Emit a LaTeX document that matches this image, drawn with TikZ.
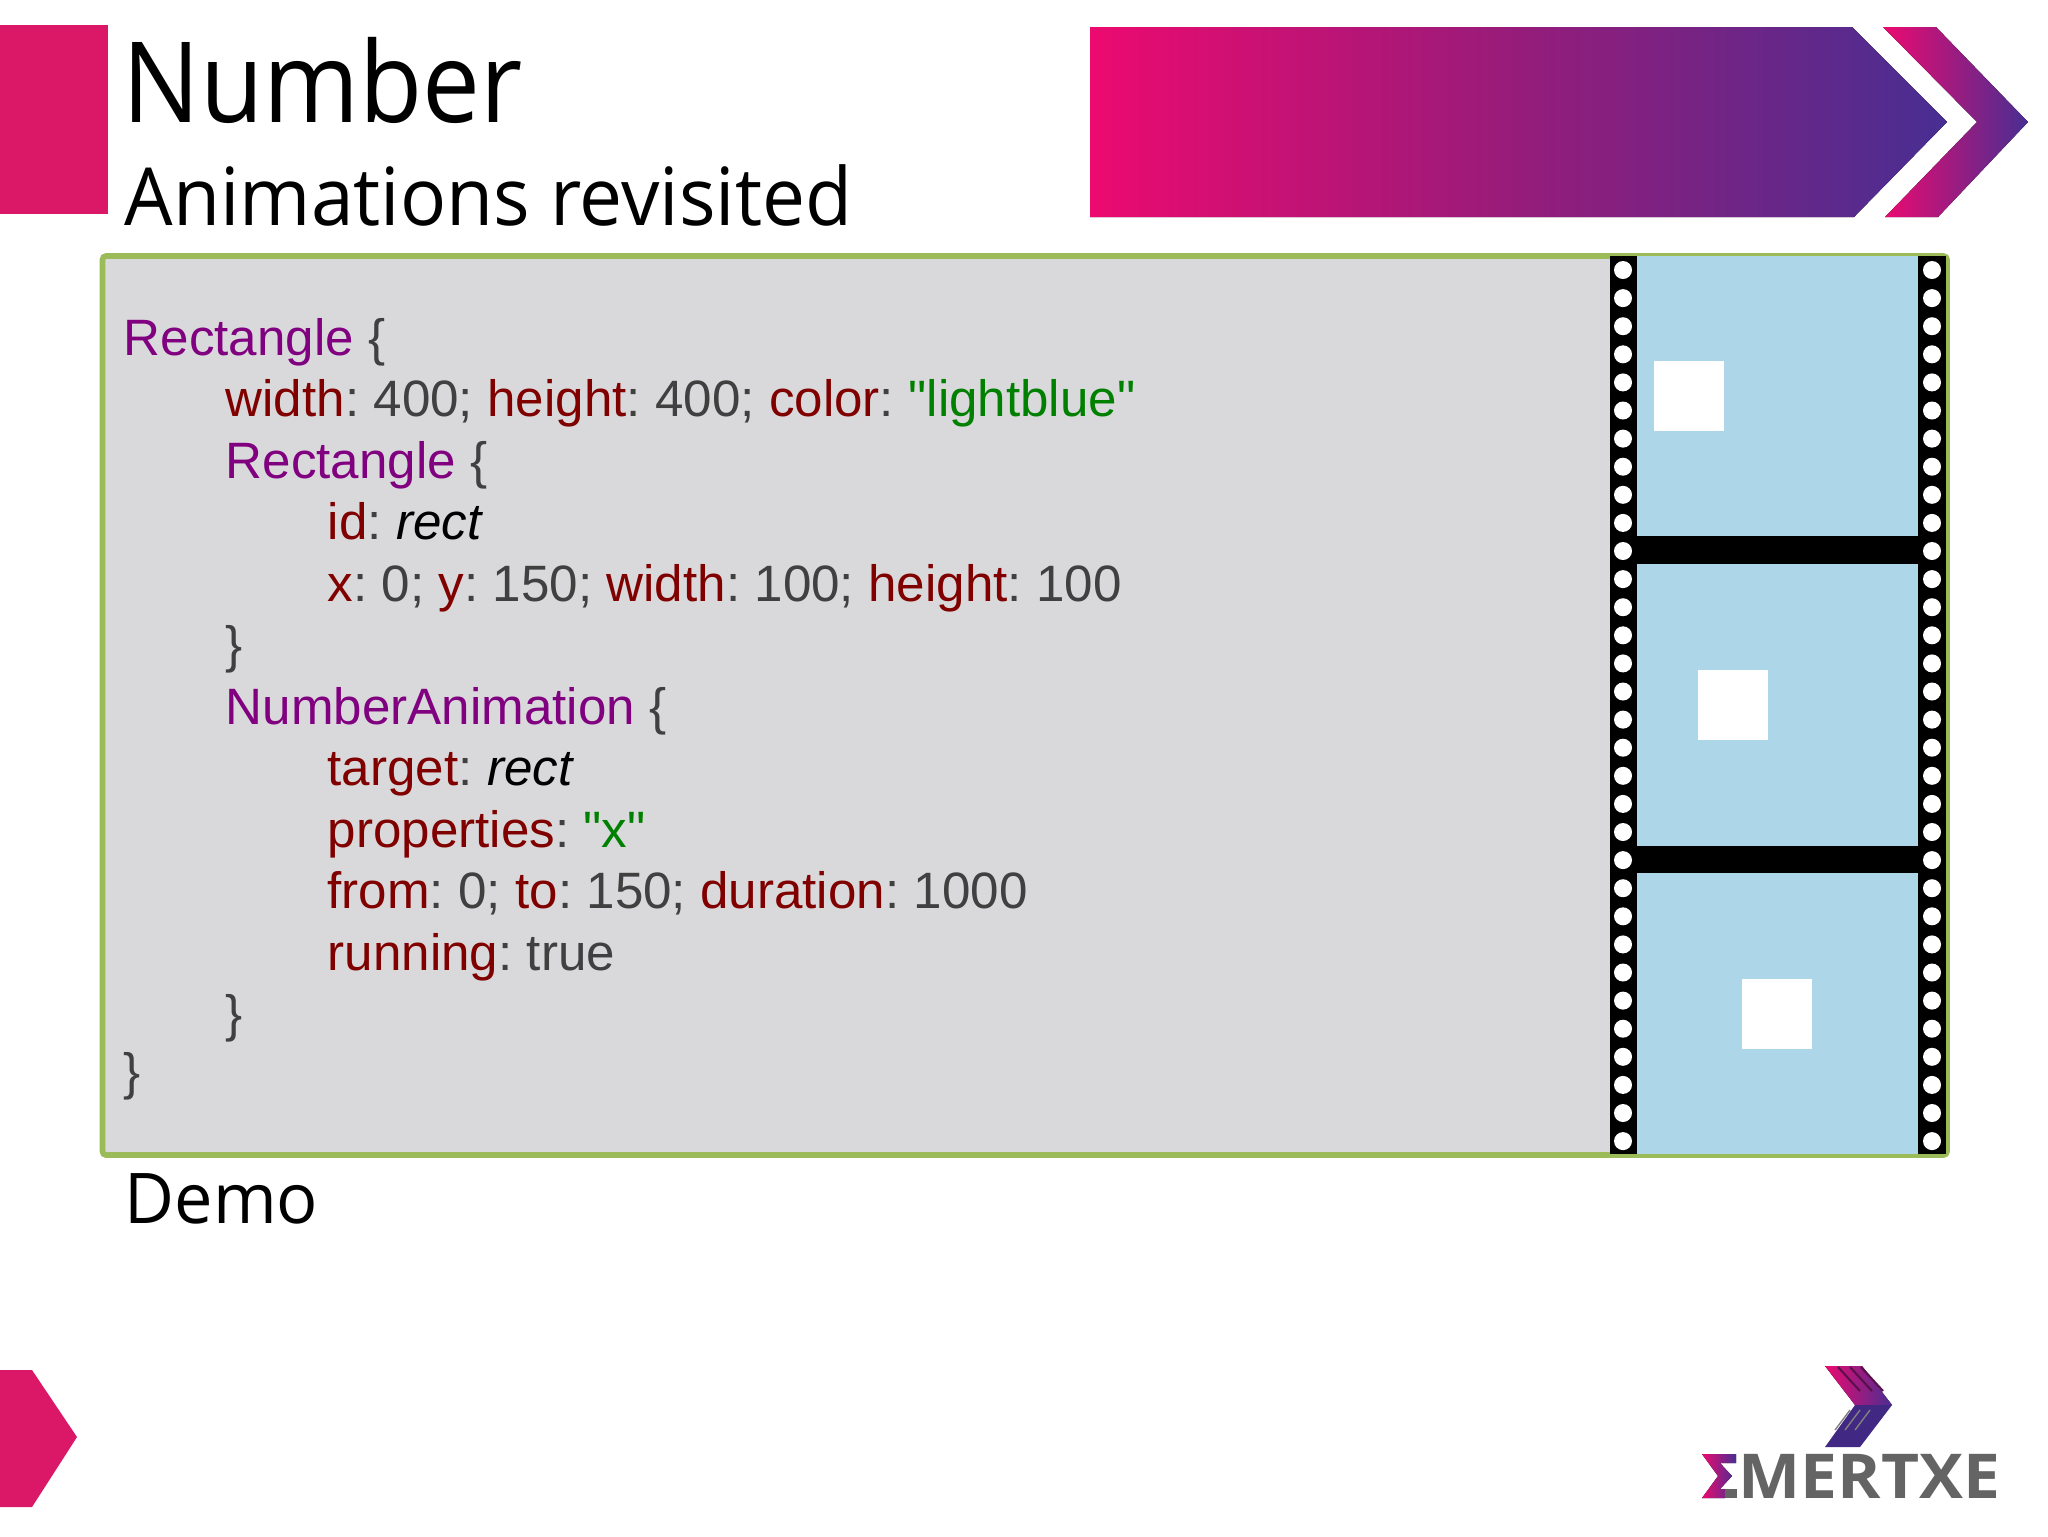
\documentclass[tikz,border=0pt]{standalone}
\usepackage{fontspec}
\setmainfont[Ligatures=TeXOff]{Liberation Sans}
\newfontfamily\titlefont[FakeStretch=0.92]{Open Sans}
\newfontfamily\subtitlefont[FakeStretch=0.957]{Open Sans}
\newfontfamily\demofont[FakeStretch=0.98]{Open Sans}
\newfontfamily\logofont[FakeStretch=1.065]{Open Sans}
\usetikzlibrary{positioning,calc}
\definecolor{slidered}{RGB}{219,24,103}
\definecolor{bandpink}{RGB}{236,10,112}
\definecolor{bandmid}{RGB}{150,28,122}
\definecolor{bandblue}{RGB}{72,46,146}
\definecolor{boxgreen}{RGB}{155,187,89}
\definecolor{boxgray}{RGB}{217,217,219}
\definecolor{filmblue}{RGB}{173,215,232}
\definecolor{codetext}{RGB}{64,64,64}
\definecolor{logogray}{RGB}{100,100,100}
\definecolor{codetype}{RGB}{128,0,128}
\definecolor{codeprop}{RGB}{128,0,0}
\definecolor{codestr}{RGB}{0,128,0}
\newcommand{\ctype}[1]{\textcolor{codetype}{#1}}
\newcommand{\cprop}[1]{\textcolor{codeprop}{#1}:\kern4.1pt}
\newcommand{\cstr}[1]{\textcolor{codestr}{#1}}
\newcommand{\cref}[1]{\textcolor{black}{\itshape #1}}
\begin{document}
\begin{tikzpicture}[
    x=0.1mm, y=-0.1mm,
    codeline/.style={anchor=base west, inner sep=0pt, text=codetext, font=\fontsize{14.55}{17}\selectfont},
    slidetext/.style={anchor=base west, inner sep=0pt, text=black},
    frameshade/.style={left color=bandpink, right color=bandblue, middle color=bandmid},
    filmhole/.style={fill=white}
]
    \useasboundingbox (0,0) rectangle (2048,1536);
    \fill[white] (0,0) rectangle (2048,1536);

    % Header
    \fill[slidered] (0,25) rectangle (108,214);
    \fill[frameshade] (1090,27) -- (1852,27) -- (1947,122) -- (1854,217) -- (1090,217) -- cycle;
    \fill[left color=bandpink, right color=bandblue] (1883,27) -- (1936,27) -- (2028,122) -- (1938,217) -- (1885,217) -- (1977,122) -- cycle;
    \node[slidetext, font=\titlefont\fontsize{31.9}{36}\selectfont] (title) at (122,122) {Number};
    \node[slidetext, font=\subtitlefont\fontsize{22.8}{26}\selectfont] (subtitle) at (124,225) {Animations revisited};

    % Code box
    \draw[boxgreen, fill=boxgray, line width=1.6pt, rounded corners=1pt] (102.5,256) rectangle (1947,1155);

    % Film strip
    \fill[black] (1610,256) rectangle (1946,1154);
    \foreach \ytop/\ybot in {256/536, 564/846, 873/1154}
        \fill[filmblue] (1637,\ytop) rectangle (1918,\ybot);
    \foreach \xleft/\ytop in {1654/361, 1698/670, 1742/979}
        \fill[white] (\xleft,\ytop) rectangle ++(70,70);
    \foreach \i in {0,...,31} {
        \fill[filmhole] (1623,270+28.1*\i) circle (9);
        \fill[filmhole] (1932,270+28.1*\i) circle (9);
    }

    % Code
    \node[codeline] (line1) at (123,355) {\ctype{Rectangle} \{};
    \node[codeline] (line2) at (225,416.5) {\cprop{width}400; \cprop{height}400; \cprop{color}\cstr{"lightblue"}};
    \node[codeline] (line3) at (225,478) {\ctype{Rectangle} \{};
    \node[codeline] (line4) at (327,539.5) {\cprop{id}\cref{rect}};
    \node[codeline] (line5) at (327,601) {\cprop{x}0; \cprop{y}150; \cprop{width}100; \cprop{height}100};
    \node[codeline] (line6) at (225,662.5) {\}};
    \node[codeline] (line7) at (225,724) {\ctype{NumberAnimation} \{};
    \node[codeline] (line8) at (327,785.5) {\cprop{target}\cref{rect}};
    \node[codeline] (line9) at (327,847) {\cprop{properties}\cstr{"x"}};
    \node[codeline] (line10) at (327,908.5) {\cprop{from}0; \cprop{to}150; \cprop{duration}1000};
    \node[codeline] (line11) at (327,970) {\cprop{running}true};
    \node[codeline] (line12) at (225,1031.5) {\}};
    \node[codeline] (line13) at (123,1089) {\}};

    \node[slidetext, font=\demofont\fontsize{19.9}{24}\selectfont] (demo) at (124,1223) {Demo};

    % Footer
    \fill[slidered] (0,1370) -- (32,1370) -- (77,1437) -- (32,1507) -- (0,1507) -- cycle;

    % Logo
    \fill[left color=bandpink, right color=bandblue] (1825,1366) -- (1862,1366) -- (1892,1405) -- (1855,1405) -- cycle;
    \fill[bandblue!90!black] (1855,1405) -- (1892,1405) -- (1860,1447) -- (1825,1447) -- cycle;
    \foreach \xa in {1838,1850,1861}
        \draw[bandmid!60!black, line width=0.6pt] (\xa,1367) -- (\xa+22,1391);
    \foreach \xa in {1850,1860,1870}
        \draw[gray, line width=0.4pt] (\xa,1410) -- (\xa-15,1430);
    \fill[left color=bandpink, right color=bandblue] (1702,1454) -- (1736,1454) -- (1736,1463) -- (1720,1463) -- (1732,1476) -- (1720,1489) -- (1725,1489) -- (1725,1498) -- (1702,1498) -- (1718,1476) -- cycle;
    \fill[logogray] (1725,1489) rectangle (1737,1498);
    \node[anchor=base west, inner sep=0pt, text=logogray, font=\logofont\bfseries\fontsize{17.6}{20}\selectfont] (logo) at (1738,1498) {MERTXE};
\end{tikzpicture}
\end{document}
